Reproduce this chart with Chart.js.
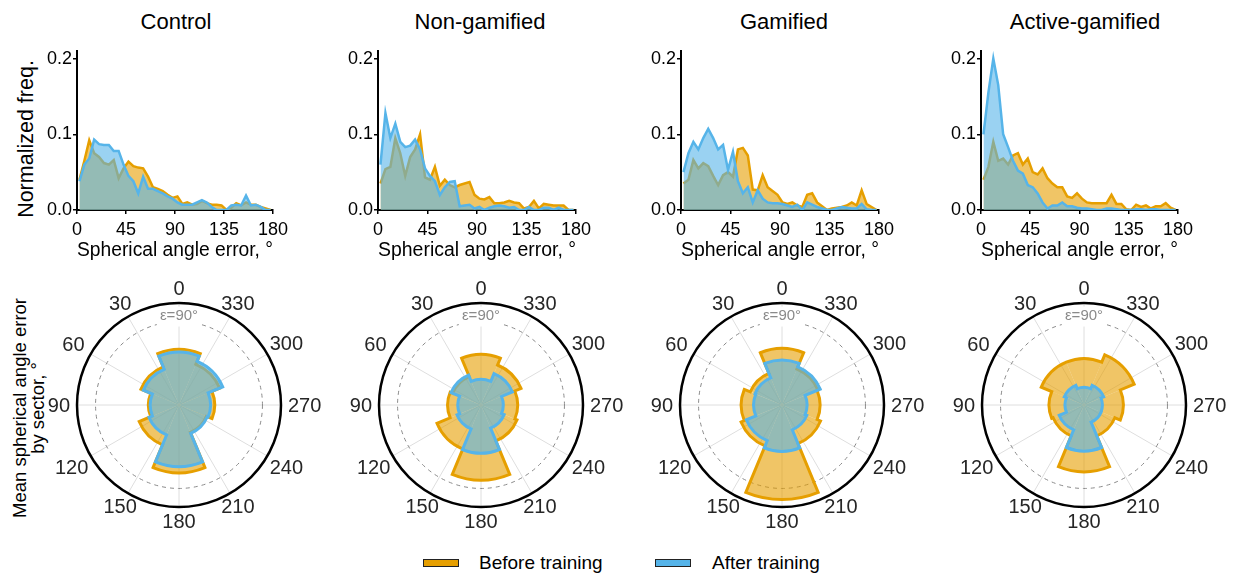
<!DOCTYPE html>
<html>
<head>
<meta charset="utf-8">
<script src="https://cdn.jsdelivr.net/npm/chart.js@4.4.1/dist/chart.umd.min.js"></script>
<style>
  html, body { margin: 0; padding: 0; background: #fff; }
  body { width: 1238px; height: 575px; position: relative; overflow: hidden;
         font-family: "Liberation Sans", Arial, sans-serif; color: #000; }
  canvas { position: absolute; }
  .title { position: absolute; top: 9px; font-size: 22px; line-height: 25px;
           transform: translateX(-50%); white-space: nowrap; }
  .ylab { position: absolute; white-space: nowrap; text-align: center;
          transform: translate(-50%, -50%) rotate(-90deg); }
  .sw { position: absolute; width: 36px; height: 8px; box-sizing: border-box;
        border: 1.5px solid #222; }
  .legtxt { position: absolute; font-size: 19px; line-height: 22px; white-space: nowrap; }
</style>
</head>
<body>
<div class="ylab" style="left:26px;top:139px;font-size:21.5px;line-height:24px;">Normalized freq.</div>
<div class="ylab" style="left:29px;top:408px;font-size:18.5px;line-height:18px;">Mean spherical angle error<br>by sector, °</div>

<div class="sw" style="left:423px;top:559px;background:#E69F00;"></div>
<div class="legtxt" style="left:479px;top:552px;">Before training</div>
<div class="sw" style="left:655px;top:559px;background:#56B4E9;"></div>
<div class="legtxt" style="left:712px;top:552px;">After training</div>

<script>
// ---------- data ----------
const groupNames = ['Control', 'Non-gamified', 'Gamified', 'Active-gamified'];

// histogram bin centres (degrees)
const binCenters = [2.25, 6.75, 11.25, 15.75, 20.25, 24.75, 29.25, 33.75, 38.25, 42.75,
  47.25, 51.75, 56.25, 60.75, 65.25, 69.75, 74.25, 78.75, 83.25, 87.75,
  92.25, 96.75, 101.25, 105.75, 110.25, 114.75, 119.25, 123.75, 128.25, 132.75,
  137.25, 141.75, 146.25, 150.75, 155.25, 159.75, 164.25, 168.75, 173.25, 177.75];

const controlBefore = [0.040,0.065,0.092,0.075,0.070,0.062,0.060,0.066,0.042,0.055,
  0.064,0.058,0.056,0.055,0.044,0.030,0.028,0.025,0.020,0.016,
  0.018,0.008,0.010,0.007,0.008,0.012,0.009,0.007,0.007,0.006,
  0.000,0.003,0.009,0.006,0.010,0.007,0.007,0.004,0.002,0.000];
const controlAfter = [0.038,0.060,0.068,0.093,0.087,0.086,0.086,0.078,0.078,0.060,
  0.045,0.038,0.022,0.044,0.028,0.028,0.025,0.022,0.018,0.015,
  0.010,0.007,0.007,0.007,0.010,0.013,0.010,0.004,0.000,0.000,
  0.000,0.006,0.007,0.006,0.019,0.006,0.007,0.004,0.000,0.000];

const nonGamBefore = [0.035,0.054,0.057,0.095,0.075,0.045,0.070,0.080,0.100,0.043,
  0.040,0.057,0.032,0.040,0.033,0.030,0.033,0.035,0.037,0.020,
  0.015,0.014,0.017,0.009,0.009,0.010,0.012,0.010,0.009,0.002,
  0.004,0.012,0.002,0.008,0.007,0.006,0.006,0.006,0.000,0.000];
const nonGamAfter = [0.060,0.128,0.095,0.114,0.090,0.083,0.085,0.093,0.080,0.055,
  0.045,0.038,0.020,0.030,0.037,0.038,0.005,0.006,0.007,0.002,
  0.004,0.000,0.003,0.005,0.006,0.005,0.003,0.004,0.000,0.000,
  0.004,0.000,0.000,0.003,0.003,0.000,0.003,0.000,0.000,0.000];

const gamBefore = [0.035,0.040,0.066,0.055,0.062,0.058,0.045,0.033,0.046,0.050,
  0.044,0.080,0.082,0.072,0.027,0.026,0.046,0.030,0.025,0.020,
  0.010,0.008,0.010,0.006,0.004,0.020,0.022,0.010,0.005,0.000,
  0.002,0.003,0.004,0.006,0.010,0.006,0.026,0.008,0.004,0.000];
const gamAfter = [0.050,0.075,0.090,0.080,0.095,0.107,0.095,0.080,0.086,0.053,
  0.077,0.038,0.022,0.030,0.010,0.026,0.015,0.010,0.009,0.009,
  0.008,0.006,0.004,0.007,0.000,0.010,0.007,0.004,0.002,0.000,
  0.000,0.002,0.004,0.003,0.002,0.002,0.008,0.001,0.000,0.000];

const activeBefore = [0.040,0.057,0.090,0.065,0.068,0.060,0.072,0.075,0.060,0.068,
  0.050,0.047,0.055,0.042,0.035,0.030,0.030,0.018,0.016,0.022,
  0.015,0.010,0.009,0.009,0.009,0.009,0.020,0.008,0.008,0.001,
  0.000,0.007,0.004,0.006,0.002,0.005,0.005,0.009,0.003,0.000];
const activeAfter = [0.100,0.155,0.200,0.165,0.100,0.083,0.065,0.052,0.048,0.033,
  0.030,0.022,0.010,0.002,0.006,0.006,0.010,0.005,0.005,0.003,
  0.002,0.002,0.001,0.000,0.000,0.002,0.002,0.001,0.000,0.000,
  0.000,0.001,0.001,0.000,0.001,0.001,0.000,0.000,0.000,0.000];

const xTicks = [0, 45, 90, 135, 180];
const yTicks = [0, 0.1, 0.2];

// sector directions (degrees, counter-clockwise from top) and mean error per sector
const sectorAngles = [0, 45, 90, 135, 180, 225, 270, 315];
const controlSectorBefore = [60, 44.5, 33, 46.5, 73, 32, 38.5, 47.5];
const controlSectorAfter  = [57, 41.7, 31, 35, 66.5, 33, 34, 51];
const nonGamSectorBefore  = [54.6, 33, 36, 51.4, 81, 42, 39.5, 46.7];
const nonGamSectorAfter   = [27.7, 35, 25, 28, 52, 27, 24, 36.7];
const gamSectorBefore     = [61, 37, 44, 47.8, 102, 45, 41, 42];
const gamSectorAfter      = [48.5, 31.6, 30.6, 41.7, 50, 29, 27, 44.6];
const activeSectorBefore  = [50, 50, 37.7, 36, 72, 36, 42.4, 58.6];
const activeSectorAfter   = [19, 23, 20.5, 29, 49.6, 20, 19.8, 23];

const angleTicks = [0, 30, 60, 90, 120, 150, 180, 210, 240, 270, 300, 330];
const refError = 90;

// ---------- style ----------
const ORANGE = '#E69F00', ORANGE_FILL = 'rgba(230,159,0,0.6)';
const BLUE = '#56B4E9', BLUE_FILL = 'rgba(86,180,233,0.6)';
const FONT = '"Liberation Sans", Arial, sans-serif';

Chart.defaults.font.family = FONT;
Chart.defaults.color = '#000';

const histBefore = [controlBefore, nonGamBefore, gamBefore, activeBefore];
const histAfter = [controlAfter, nonGamAfter, gamAfter, activeAfter];
const sectBefore = [controlSectorBefore, nonGamSectorBefore, gamSectorBefore, activeSectorBefore];
const sectAfter = [controlSectorAfter, nonGamSectorAfter, gamSectorAfter, activeSectorAfter];

const axesLeft = [77, 378, 681, 981];
const axesRight = [273, 576, 879, 1178];
const titleX = [176, 480, 784, 1085];
const polarX = [179, 481, 782, 1084];
const polarY = 405;

function makeCanvas(left, top, w, h) {
  const c = document.createElement('canvas');
  c.width = w; c.height = h;
  c.style.left = left + 'px'; c.style.top = top + 'px';
  c.style.width = w + 'px'; c.style.height = h + 'px';
  document.body.appendChild(c);
  return c;
}

// Chart.js draws arcs clockwise starting at the top, so re-order counter-clockwise sectors
function clockwise(values) {
  const order = [0, 7, 6, 5, 4, 3, 2, 1];
  return order.map(i => values[i]);
}

// Grid spokes, reference ring, outer frame, angle labels and sector outlines
const polarFrame = {
  id: 'polarFrame',
  beforeDatasetsDraw(chart) {
    const s = chart.scales.r, ctx = chart.ctx;
    const cx = s.xCenter, cy = s.yCenter, R = s.drawingArea;
    ctx.save();
    ctx.strokeStyle = '#dedede';
    ctx.lineWidth = 1;
    angleTicks.forEach(a => {
      const t = a * Math.PI / 180;
      ctx.beginPath();
      ctx.moveTo(cx, cy);
      ctx.lineTo(cx - R * Math.sin(t), cy - R * Math.cos(t));
      ctx.stroke();
    });
    const r90 = s.getDistanceFromCenterForValue(refError);
    ctx.setLineDash([4, 4]);
    ctx.strokeStyle = '#8a8a8a';
    ctx.beginPath();
    ctx.arc(cx, cy, r90, 0, Math.PI * 2);
    ctx.stroke();
    ctx.setLineDash([]);
    ctx.font = '15px ' + FONT;
    const txt = 'ε=' + refError + '°';
    const w = ctx.measureText(txt).width;
    ctx.fillStyle = '#fff';
    ctx.fillRect(cx - w / 2 - 3, cy - r90 - 15, w + 6, 20);
    ctx.fillStyle = '#8a8a8a';
    ctx.textAlign = 'center';
    ctx.textBaseline = 'middle';
    ctx.fillText(txt, cx, cy - r90 - 6);
    ctx.restore();
  },
  afterDatasetDraw(chart, args) {
    const ds = chart.data.datasets[args.index];
    const ctx = chart.ctx;
    ctx.save();
    ctx.beginPath();
    args.meta.data.forEach(arc => {
      const p = arc.getProps(['x', 'y', 'startAngle', 'endAngle', 'outerRadius'], true);
      ctx.arc(p.x, p.y, p.outerRadius, p.startAngle, p.endAngle);
    });
    ctx.closePath();
    ctx.lineWidth = 3;
    ctx.lineJoin = 'miter';
    ctx.strokeStyle = ds.outlineColor;
    ctx.stroke();
    ctx.restore();
  },
  afterDraw(chart) {
    const s = chart.scales.r, ctx = chart.ctx;
    const cx = s.xCenter, cy = s.yCenter, R = s.drawingArea;
    ctx.save();
    ctx.strokeStyle = '#000';
    ctx.lineWidth = 2.5;
    ctx.beginPath();
    ctx.arc(cx, cy, R, 0, Math.PI * 2);
    ctx.stroke();
    ctx.fillStyle = '#262626';
    ctx.font = '20px ' + FONT;
    ctx.textAlign = 'center';
    ctx.textBaseline = 'middle';
    // each label's nearest edge sits a fixed gap outside the frame
    const gap = R + 7, hh = 7.5;
    angleTicks.forEach(a => {
      const t = a * Math.PI / 180;
      const sx = -Math.sin(t), sy = -Math.cos(t);
      const hw = ctx.measureText(String(a)).width / 2;
      const d = Math.min(Math.abs(sx) > 1e-6 ? hw / Math.abs(sx) : Infinity,
                         Math.abs(sy) > 1e-6 ? hh / Math.abs(sy) : Infinity);
      const rr = gap + d;
      ctx.fillText(String(a), cx + rr * sx, cy + rr * sy + 1);
    });
    ctx.restore();
  }
};

for (let k = 0; k < 4; k++) {
  // panel title
  const t = document.createElement('div');
  t.className = 'title';
  t.style.left = titleX[k] + 'px';
  t.textContent = groupNames[k];
  document.body.appendChild(t);

  // error distribution
  const L = axesLeft[k], Rr = axesRight[k];
  const cv = makeCanvas(L - 50, 35, Rr - L + 70, 230);
  new Chart(cv, {
    type: 'line',
    data: {
      datasets: [
        { label: 'After training', data: binCenters.map((x, i) => ({ x, y: histAfter[k][i] })),
          borderColor: BLUE, backgroundColor: BLUE_FILL, fill: 'origin',
          borderWidth: 2.5, pointRadius: 0, tension: 0 },
        { label: 'Before training', data: binCenters.map((x, i) => ({ x, y: histBefore[k][i] })),
          borderColor: ORANGE, backgroundColor: ORANGE_FILL, fill: 'origin',
          borderWidth: 2.5, pointRadius: 0, tension: 0 }
      ]
    },
    options: {
      responsive: false, animation: false, devicePixelRatio: 1,
      layout: { padding: { top: 16, right: 20, left: 0, bottom: 0 } },
      plugins: { legend: { display: false }, tooltip: { enabled: false } },
      scales: {
        x: {
          type: 'linear', min: 0, max: 180,
          afterBuildTicks: s => { s.ticks = xTicks.map(v => ({ value: v })); },
          afterFit: s => { s.height = 55; },
          grid: { drawOnChartArea: false, drawTicks: true, tickLength: 4, color: '#000', lineWidth: 1.5 },
          border: { display: true, color: '#000', width: 2 },
          ticks: { padding: 5, font: { size: 18 }, color: '#000', maxRotation: 0, autoSkip: false },
          title: { display: true, text: 'Spherical angle error, °', font: { size: 19.5 }, color: '#000',
                   padding: { top: 0, bottom: 3 } }
        },
        y: {
          min: 0, max: 0.21,
          afterBuildTicks: s => { s.ticks = yTicks.map(v => ({ value: v })); },
          afterFit: s => { s.width = 50; },
          grid: { drawOnChartArea: false, drawTicks: true, tickLength: 4, color: '#000', lineWidth: 1.5 },
          border: { display: true, color: '#000', width: 2 },
          ticks: { padding: 1, font: { size: 18 }, color: '#000', callback: v => Number(v).toFixed(1) }
        }
      }
    }
  });

  // mean error by sector
  const pc = makeCanvas(polarX[k] - 145, polarY - 145, 290, 290);
  new Chart(pc, {
    type: 'polarArea',
    data: {
      labels: clockwise(sectorAngles).map(String),
      datasets: [
        { label: 'After training', data: clockwise(sectAfter[k]), backgroundColor: BLUE_FILL,
          borderWidth: 0, borderColor: 'rgba(0,0,0,0)', outlineColor: BLUE },
        { label: 'Before training', data: clockwise(sectBefore[k]), backgroundColor: ORANGE_FILL,
          borderWidth: 0, borderColor: 'rgba(0,0,0,0)', outlineColor: ORANGE }
      ]
    },
    options: {
      responsive: false, animation: false, devicePixelRatio: 1,
      layout: { padding: 43 },
      plugins: { legend: { display: false }, tooltip: { enabled: false } },
      scales: {
        r: {
          min: 0, max: 110, startAngle: -22.5,
          ticks: { display: false },
          grid: { display: false },
          angleLines: { display: false },
          pointLabels: { display: false }
        }
      }
    },
    plugins: [polarFrame]
  });
}
</script>
</body>
</html>
